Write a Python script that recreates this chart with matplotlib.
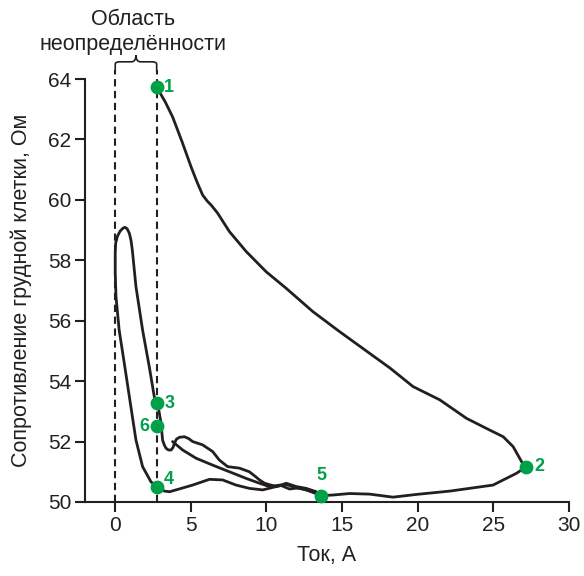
import numpy as np
import matplotlib.pyplot as plt
from matplotlib.path import Path
from matplotlib.patches import PathPatch

plt.rcParams['font.family'] = ['Liberation Sans', 'DejaVu Sans']

# upper branch: point 1 -> point 2
upperX = [2.74, 3.30, 3.79, 4.40, 5.01, 5.40, 5.78, 6.10, 6.34, 6.77, 7.55, 8.66, 9.98, 11.31, 13.07, 14.83,
          16.82, 18.15, 19.69, 21.46, 23.22, 24.60, 25.65, 26.31, 26.87, 27.19]
upperY = [63.73, 63.25, 62.75, 61.95, 61.10, 60.60, 60.16, 59.95, 59.83, 59.56, 58.95, 58.29, 57.62, 57.07, 56.30, 55.64,
          54.92, 54.44, 53.82, 53.38, 52.77, 52.42, 52.16, 51.83, 51.33, 51.17]

# bottom branch: point 2 -> point 5 -> point 4
lowerX = [27.19, 26.53, 24.98, 22.12, 19.91, 18.36, 16.82, 15.50, 14.39, 13.62,
          13.29, 12.63, 11.97, 11.31, 10.64, 9.75, 8.87, 7.99, 7.10, 6.23, 5.12, 4.02, 3.60, 3.25, 2.74]
lowerY = [51.17, 50.95, 50.56, 50.36, 50.25, 50.16, 50.26, 50.28, 50.23, 50.21,
          50.34, 50.45, 50.51, 50.62, 50.51, 50.40, 50.45, 50.56, 50.73, 50.75, 50.56, 50.40, 50.34, 50.36, 50.51]

# left loop: point 4 -> peak -> point 3 -> dip
loopX = [2.74, 2.36, 1.81, 1.37, 0.93, 0.60, 0.26, 0.05, 0.0, 0.0, 0.03, 0.15, 0.33, 0.53, 0.66,
         0.79, 0.93, 1.04, 1.13, 1.37, 1.81, 2.25, 2.58, 2.80, 3.03, 3.13, 3.25, 3.36, 3.52, 3.69, 3.82, 3.91]
loopY = [50.51, 50.67, 51.17, 52.05, 53.50, 54.59, 55.69, 56.80, 57.60, 58.23, 58.57, 58.80, 58.97, 59.07, 59.09,
         59.04, 58.90, 58.67, 58.34, 57.13, 55.69, 54.48, 53.49, 53.27, 52.61, 52.05, 51.88, 51.78, 51.72, 51.72, 51.80, 51.94]

# bump after the dip
bumpX = [3.91, 4.05, 4.24, 4.57, 4.85, 5.12, 5.78, 6.44, 6.88, 7.43, 8.21, 8.87, 9.25, 9.54, 9.87, 10.64,
         11.31, 11.97, 12.63, 13.29, 13.62]
bumpY = [51.94, 52.08, 52.14, 52.16, 52.10, 52.00, 51.89, 51.67, 51.39, 51.17, 51.12, 51.00, 50.85, 50.73, 50.62, 50.51,
         50.58, 50.47, 50.40, 50.30, 50.21]

# diagonal line back from the tangle
diagX = [3.79, 4.46, 5.34, 6.44, 7.55, 8.66, 9.54, 10.20, 10.90, 11.52, 12.20, 12.85, 13.62]
diagY = [52.00, 51.72, 51.45, 51.22, 51.00, 50.78, 50.62, 50.51, 50.56, 50.43, 50.47, 50.36, 50.21]

pointX = [2.74, 27.19, 2.74, 2.74, 13.62, 2.74]
pointY = [63.73, 51.17, 53.27, 50.51, 50.21, 52.50]
pointLabels = ['1', '2', '3', '4', '5', '6']

ink = '#231f20'
green = '#00a04a'

fig = plt.figure(figsize=(5.84, 5.76), dpi=100)
ax = fig.add_axes([0.1455, 0.1285, 0.8288, 0.7343])

for xs, ys in [(upperX, upperY), (lowerX, lowerY), (loopX, loopY), (bumpX, bumpY), (diagX, diagY)]:
    ax.plot(xs, ys, color=ink, lw=2, solid_capstyle='round', solid_joinstyle='round')

# uncertainty area
for xv in [0, 2.74]:
    ax.plot([xv, xv], [50, 64.3], color=ink, lw=1.5, ls=(0, (3.5, 2.2)), clip_on=False)

# curly brace
b0, b1, yb, h = 0.0, 2.74, 64.27, 0.22
mid = (b0 + b1) / 2
top = yb + h + 0.08
verts = [(b0, yb), (b0, yb + h), (b0, top), (b0 + 0.3, top),
         (mid - 0.3, top), (mid, top), (mid, top + 0.22),
         (mid, top), (mid + 0.3, top),
         (b1 - 0.3, top), (b1, top), (b1, yb + h), (b1, yb)]
codes = [Path.MOVETO, Path.LINETO, Path.CURVE3, Path.CURVE3,
         Path.LINETO, Path.CURVE3, Path.CURVE3, Path.CURVE3, Path.CURVE3,
         Path.LINETO, Path.CURVE3, Path.CURVE3, Path.LINETO]
ax.add_patch(PathPatch(Path(verts, codes), fc='none', ec=ink, lw=1.2, clip_on=False))

ax.text(1.2, 64.8, 'Область\nнеопределённости', ha='center', va='bottom',
        fontsize=15.5, color=ink, linespacing=1.25)

ax.scatter(pointX, pointY, s=80, color=green, zorder=5, clip_on=False)
offsets = {'1': (0.5, 0), '2': (0.55, 0), '3': (0.55, 0), '4': (0.45, 0.25),
           '5': (0.0, 0.4), '6': (-0.5, 0)}
for px, py, lab in zip(pointX, pointY, pointLabels):
    dx, dy = offsets[lab]
    ax.text(px + dx, py + dy, lab, color=green, fontsize=13, fontweight='bold',
            ha='right' if dx < 0 else ('center' if dx == 0 else 'left'),
            va='bottom' if dy > 0.3 else 'center')

ax.set_xlim(-2, 30)
ax.set_ylim(50, 64)
ax.set_xticks(range(0, 31, 5))
ax.set_yticks(range(50, 65, 2))
ax.spines['top'].set_visible(False)
ax.spines['right'].set_visible(False)
for s in ['left', 'bottom']:
    ax.spines[s].set_color(ink)
    ax.spines[s].set_linewidth(1.5)
ax.tick_params(colors=ink, labelsize=15, length=7, width=1.5, pad=3)
ax.set_xlabel('Ток, А', fontsize=15.5, color=ink, labelpad=7)
ax.set_ylabel('Сопротивление грудной клетки, Ом', fontsize=15.5, color=ink, labelpad=11)

fig.savefig('out.png', dpi=100)
